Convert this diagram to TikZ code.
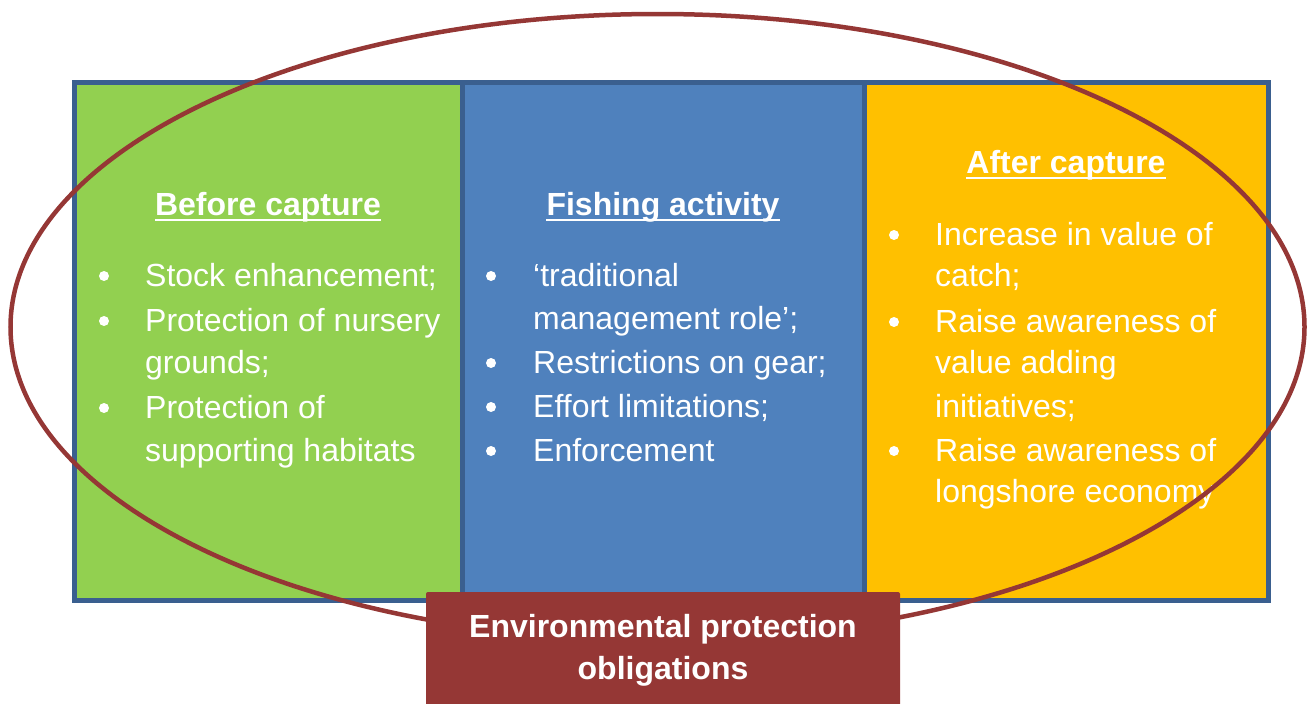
\documentclass[tikz,border=0pt]{standalone}
\usepackage{fontspec}
\setmainfont{Liberation Sans}
\definecolor{gfill}{HTML}{92D050}
\definecolor{bfill}{HTML}{4F81BD}
\definecolor{ofill}{HTML}{FFC000}
\definecolor{bord}{HTML}{3A5F8F}
\definecolor{red}{HTML}{953735}
\begin{document}
\begin{tikzpicture}[x=1pt,y=-1pt,
  txt/.style={anchor=base west,inner sep=0pt,text=white,font=\fontsize{32}{38}\selectfont},
  head/.style={anchor=base,inner sep=0pt,text=white,font=\fontsize{32}{38}\selectfont\bfseries},
  bul/.style={circle,fill=white,inner sep=0pt,minimum size=10pt},
  panel/.style={draw=bord,line width=5pt}]
\useasboundingbox (0,0) rectangle (1309,704);
\draw[panel,fill=gfill] (74.5,82.5) rectangle (462.5,600.5);
\draw[panel,fill=bfill] (462.5,82.5) rectangle (864.5,600.5);
\draw[panel,fill=ofill] (864.5,82.5) rectangle (1268,600.5);
% headers
\node[head] (h1) at (268,215) {Before capture};
\node[head] (h2) at (663,215) {Fishing activity};
\node[head] (h3) at (1066,173) {After capture};
\foreach \h in {h1,h2,h3}{
  \draw[white,line width=2.8pt] ([yshift=-5pt]\h.base west) -- ([yshift=-5pt]\h.base east);}
% green
\node[bul] (g1) at (104,276) {};
\node[txt] (gt1) at (145,286) {Stock enhancement;};
\node[bul] (g2) at (104,321) {};
\node[txt] (gt2) at (145,331) {Protection of nursery};
\node[txt] (gt3) at (145,373) {grounds;};
\node[bul] (g3) at (104,408) {};
\node[txt] (gt4) at (145,418) {Protection of};
\node[txt] (gt5) at (145,461) {supporting habitats};
% blue
\node[bul] (b1) at (491,276) {};
\node[txt] (bt1) at (533,286) {‘traditional};
\node[txt] (bt2) at (533,329) {management role’;};
\node[bul] (b2) at (491,363) {};
\node[txt] (bt3) at (533,373) {Restrictions on gear;};
\node[bul] (b3) at (491,407) {};
\node[txt] (bt4) at (533,417) {Effort limitations;};
\node[bul] (b4) at (491,451) {};
\node[txt] (bt5) at (533,461) {Enforcement};
% orange
\node[bul] (o1) at (894,235) {};
\node[txt] (ot1) at (935,245) {Increase in value of};
\node[txt] (ot2) at (935,286) {catch;};
\node[bul] (o2) at (894,322) {};
\node[txt] (ot3) at (935,332) {Raise awareness of};
\node[txt] (ot4) at (935,373) {value adding};
\node[txt] (ot5) at (935,417) {initiatives;};
\node[bul] (o3) at (894,451) {};
\node[txt] (ot6) at (935,461) {Raise awareness of};
\node[txt] (ot7) at (935,502) {longshore economy};
% ellipse
\draw[red,line width=4.5pt] (657.5,327) ellipse [x radius=647,y radius=313];
% bottom box
\node[fill=red,rounded corners=2pt,minimum width=474pt,minimum height=116pt,inner sep=0pt] (env) at (663,650) {};
\node[head] (e1) at (663,637) {Environmental protection};
\node[head] (e2) at (663,679) {obligations};
\end{tikzpicture}
\end{document}
